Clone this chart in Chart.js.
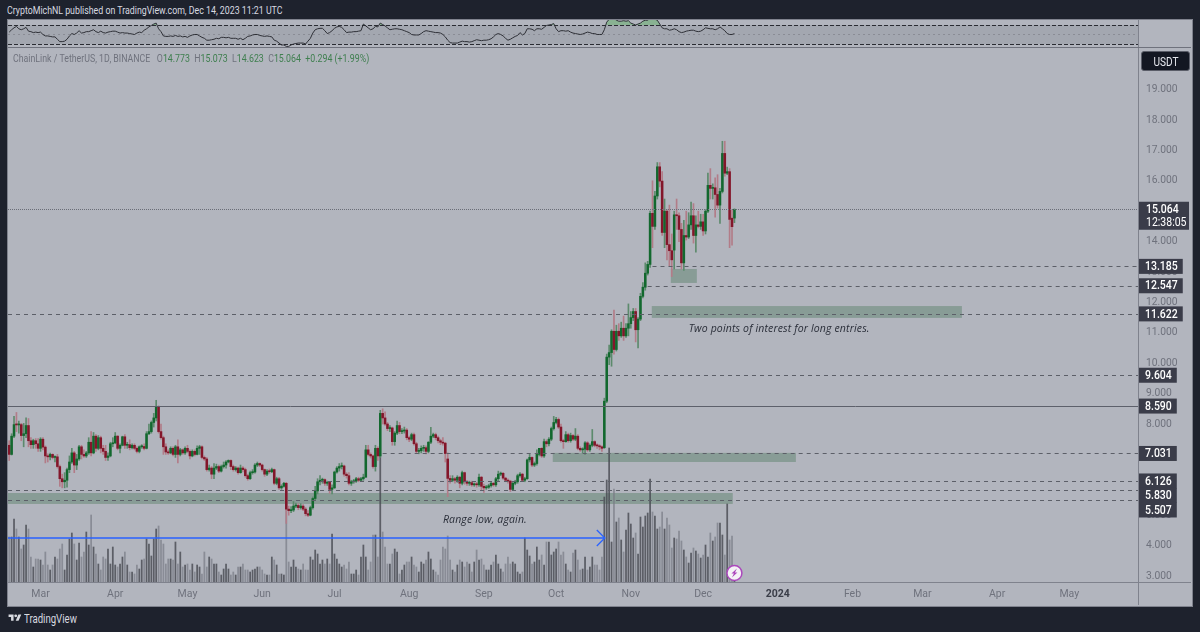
<!DOCTYPE html>
<html>
<head>
<meta charset="utf-8">
<title>ChainLink / TetherUS</title>
<script src="https://cdn.jsdelivr.net/npm/chart.js@4.4.6/dist/chart.umd.min.js"></script>
<style>
html,body{margin:0;padding:0;background:#1e222d;width:1200px;height:632px;overflow:hidden;font-family:Roboto,sans-serif}
canvas{position:absolute;display:block}
.box{position:absolute}
.narrow{transform:scaleX(.8);transform-origin:left center}
#frame{left:7px;top:19px;width:1184px;height:586px;background:#b2b5be;border:1px solid #7f828d}
#vsep{left:1138px;top:20px;width:1px;height:585px;background:#7f828d}
#hsep1{left:8px;top:47px;width:1183px;height:1px;background:#6f727d}
#hsep2{left:8px;top:582px;width:1183px;height:1px;background:#7f828d}
#published{left:7px;top:4px;font-size:11px;color:#d8dae0;white-space:nowrap}
#legend{left:13px;top:52px;font-size:11px;color:#6f727d;white-space:nowrap}
#legend b{font-weight:normal;color:#3f7f4f}
#unit{left:1141px;top:51px;width:47px;height:18px;line-height:18px;background:#131722;border:1px solid #5a5d68;border-radius:3px;color:#e6e8ee;text-align:center}
#unit span{display:inline-block;font-size:12px;transform:scaleX(.84)}
#brand{left:24px;top:612px;font-size:12px;color:#d8dae0;white-space:nowrap}
#logo{left:8px;top:613px}
</style>
</head>
<body>
<div class="box" id="frame"></div>
<div class="box narrow" id="published">CryptoMichNL published on TradingView.com, Dec 14, 2023 11:21 UTC</div>
<canvas id="rsi" width="1130" height="27" style="left:8px;top:20px"></canvas>
<canvas id="main" width="1184" height="557" style="left:8px;top:48px"></canvas>
<div class="box" id="vsep"></div>
<div class="box" id="hsep1"></div>
<div class="box" id="hsep2"></div>
<div class="box narrow" id="legend">ChainLink / TetherUS, 1D, BINANCE&nbsp;&nbsp; O<b>14.773</b>&nbsp;&nbsp;H<b>15.073</b>&nbsp;&nbsp;L<b>14.623</b>&nbsp;&nbsp;C<b>15.064</b>&nbsp;&nbsp;<b>+0.294 (+1.99%)</b></div>
<div class="box" id="unit"><span>USDT</span></div>
<svg class="box" id="logo" width="14" height="10" viewBox="0 0 36 28"><path fill="#d8dae0" d="M14 22H7V11H0V4h14v18zM28 22h-8l7.5-18h8L28 22z"/><circle fill="#d8dae0" cx="20" cy="8" r="4"/></svg>
<div class="box narrow" id="brand">TradingView</div>
<script>
// daily candles, LINK/USDT. first one is Feb 16 2023
const opens = [
7.30,7.00,7.60,7.98,7.97,7.98,7.62,7.68,7.95,7.45,
7.32,7.45,7.35,7.20,7.50,7.24,6.95,6.92,7.00,6.90,
6.92,6.60,6.20,6.10,6.15,6.50,6.75,7.05,6.65,6.85,
7.25,7.00,6.95,7.05,7.40,7.05,7.60,7.20,7.55,7.20,
7.10,6.90,6.95,7.35,7.38,7.60,7.20,7.30,7.58,7.30,
7.32,7.22,7.30,7.20,7.10,7.25,7.26,7.20,7.68,7.75,
8.05,8.20,8.57,7.75,7.55,7.25,7.08,7.05,7.20,7.00,
7.25,7.00,7.15,7.05,7.20,7.10,6.95,7.10,7.00,7.20,
7.25,6.90,6.85,6.50,6.55,6.35,6.55,6.60,6.45,6.60,
6.65,6.75,6.80,6.60,6.50,6.55,6.40,6.55,6.50,6.30,
6.20,6.40,6.42,6.65,6.70,6.65,6.50,6.35,6.45,6.43,
6.50,6.05,6.20,5.90,5.95,6.05,5.20,5.15,5.17,5.30,
5.32,5.25,5.30,5.20,5.05,5.00,5.25,5.55,5.80,6.10,
6.15,6.17,6.05,6.08,5.85,5.90,6.42,6.55,6.60,6.62,
6.35,6.30,6.05,6.10,6.12,6.20,6.15,6.20,6.25,7.15,
7.00,6.95,6.60,7.20,6.95,8.35,8.20,8.00,7.85,7.87,
7.42,7.70,7.95,7.75,7.77,7.80,7.55,7.50,7.65,7.35,
7.10,7.12,7.20,7.22,7.10,7.40,7.60,7.65,7.55,7.45,
7.40,7.37,6.85,6.21,6.15,6.20,6.15,6.25,6.05,6.40,
6.10,6.05,6.07,6.00,6.02,6.00,6.25,5.95,5.90,5.92,
5.97,6.05,6.00,6.20,6.35,6.38,6.22,6.15,6.12,5.85,
6.05,6.10,6.30,6.35,6.15,6.20,6.82,6.90,6.65,6.70,
7.00,7.20,6.95,7.42,7.35,7.50,7.85,8.05,8.15,7.90,
7.45,7.42,7.65,7.45,7.62,7.50,7.60,7.20,7.15,7.17,
7.38,7.15,7.30,7.42,7.30,7.28,7.25,7.22,8.75,10.20,
10.35,11.05,10.45,11.05,10.90,11.15,10.90,11.15,11.30,11.50,
11.70,11.10,11.45,12.20,12.50,12.96,13.25,14.93,14.50,15.50,
16.46,15.99,14.30,15.00,13.90,13.70,13.72,14.88,14.85,14.40,
13.30,14.20,14.15,14.55,14.85,14.20,14.55,14.50,14.65,14.35,
15.00,15.85,15.75,15.77,15.55,15.20,15.65,16.90,16.25,16.30,
14.77,14.773];
const highs = [
7.45,7.68,8.25,8.38,8.10,8.02,8.02,8.20,8.18,7.55,
7.50,7.52,7.52,7.55,7.55,7.28,7.02,7.04,7.02,6.95,
7.00,6.65,6.35,6.40,6.55,6.95,7.20,7.10,7.00,7.30,
7.30,7.15,7.10,7.55,7.75,7.72,7.65,7.62,7.60,7.30,
7.30,7.05,7.40,7.55,7.72,7.62,7.35,7.60,7.65,7.40,
7.48,7.35,7.35,7.25,7.28,7.32,7.35,7.75,8.00,8.10,
8.35,8.78,8.60,8.00,7.60,7.35,7.15,7.25,7.25,7.30,
7.48,7.20,7.18,7.25,7.30,7.15,7.15,7.15,7.28,7.30,
7.28,6.95,6.90,6.65,6.60,6.70,6.68,6.65,6.65,6.75,
6.80,6.82,6.82,6.65,6.60,6.58,6.65,6.60,6.55,6.35,
6.45,6.50,6.70,6.75,6.72,6.68,6.52,6.50,6.52,6.55,
6.52,6.25,6.25,6.00,6.08,6.08,5.30,5.28,5.45,5.40,
5.38,5.38,5.35,5.25,5.15,5.30,5.60,5.95,6.20,6.30,
6.22,6.20,6.12,6.10,6.00,6.45,6.60,6.70,6.72,6.65,
6.40,6.40,6.15,6.18,6.25,6.25,6.25,6.35,7.30,7.30,
7.05,6.98,7.30,7.25,8.45,8.50,8.40,8.05,7.95,7.90,
7.75,8.10,8.05,7.85,7.90,7.85,7.60,7.70,7.70,7.40,
7.20,7.28,7.30,7.28,7.42,7.89,7.70,7.70,7.60,7.50,
7.55,7.40,7.05,6.30,6.30,6.25,6.30,6.28,6.45,6.42,
6.15,6.12,6.12,6.06,6.08,6.35,6.28,6.02,5.98,6.02,
6.10,6.08,6.25,6.45,6.42,6.40,6.25,6.20,6.15,6.08,
6.15,6.35,6.40,6.38,6.25,6.85,7.00,6.92,6.75,7.15,
7.20,7.22,7.50,7.48,7.55,7.90,8.25,8.22,8.20,8.00,
7.50,7.75,7.70,7.70,7.65,7.85,7.65,7.25,7.22,7.42,
7.42,7.35,7.82,7.45,7.35,7.32,7.28,8.85,10.30,10.60,
11.10,11.75,11.25,11.30,11.35,11.55,11.30,11.95,11.70,11.80,
11.80,11.50,12.30,12.65,13.30,13.35,15.00,16.00,15.65,16.60,
16.60,16.30,15.40,15.05,15.20,14.25,15.00,15.40,14.95,14.60,
14.70,15.00,14.95,15.30,15.25,14.85,15.00,14.90,14.90,15.05,
16.25,16.40,15.90,16.10,16.20,15.75,17.30,17.30,16.45,16.40,
15.05,15.073];
const lows = [
6.80,6.98,7.55,7.75,7.70,7.45,7.25,7.55,7.25,7.20,
7.20,7.20,7.10,7.10,7.15,6.72,6.75,6.82,6.85,6.75,
6.55,5.95,5.90,5.90,5.92,6.40,6.70,6.40,6.50,6.80,
6.85,6.90,6.90,7.00,6.95,7.02,7.10,7.15,7.05,7.00,
6.80,6.80,6.92,7.25,7.35,7.15,7.05,7.28,7.20,7.20,
7.15,7.18,7.15,7.05,7.05,7.20,7.15,7.18,7.65,7.70,
7.90,8.10,7.70,7.50,7.00,7.00,7.00,7.02,6.95,6.90,
6.72,6.95,7.00,7.00,7.05,6.85,6.92,6.95,6.98,7.00,
6.85,6.80,6.45,6.45,6.20,6.20,6.50,6.40,6.42,6.55,
6.55,6.72,6.50,6.45,6.45,6.35,6.38,6.42,6.25,6.15,
6.18,6.35,6.38,6.60,6.60,6.45,6.28,6.30,6.38,6.40,
6.00,6.00,5.85,5.85,5.92,4.73,5.00,5.08,5.12,5.25,
5.18,5.20,5.15,4.98,4.95,4.98,5.20,5.50,5.70,6.00,
6.05,5.98,5.98,5.72,5.70,5.88,6.38,6.45,6.52,6.28,
6.22,6.00,5.98,6.05,6.08,6.10,6.10,6.15,6.25,6.95,
6.88,6.55,6.45,6.80,6.90,8.00,7.95,7.78,7.75,7.30,
7.30,7.65,7.68,7.68,7.70,7.48,7.42,7.45,7.30,7.05,
7.02,7.05,7.10,7.02,7.05,7.35,7.55,7.48,7.38,7.32,
7.30,6.75,5.61,6.05,6.10,6.05,6.08,5.90,6.00,6.02,
5.98,5.98,5.95,5.95,5.92,5.95,5.82,5.75,5.85,5.88,
5.92,5.95,5.95,6.12,6.30,6.18,6.10,6.05,5.78,5.82,
6.00,6.05,6.25,6.12,6.10,6.18,6.75,6.60,6.60,6.65,
6.95,6.90,6.90,7.25,7.28,7.45,7.80,8.00,7.85,7.40,
7.20,7.40,7.40,7.40,7.45,7.45,7.15,7.10,7.05,7.00,
7.10,7.10,7.25,7.25,7.20,7.15,7.10,7.20,8.70,9.95,
9.90,10.30,10.40,10.75,10.85,10.75,10.85,10.90,11.15,11.40,
10.70,10.50,11.40,12.15,12.40,12.90,13.15,13.80,14.40,15.40,
15.80,14.20,13.80,13.40,13.20,12.85,13.10,14.40,14.00,13.10,
13.05,14.05,14.10,14.40,13.95,13.65,14.45,14.40,14.20,14.25,
14.95,15.40,15.40,14.80,15.10,14.60,15.60,16.15,16.20,13.80,
13.88,14.623];
const closes = [
7.00,7.60,7.98,7.97,7.98,7.62,7.68,7.95,7.45,7.32,
7.45,7.35,7.20,7.50,7.24,6.95,6.92,7.00,6.90,6.92,
6.60,6.20,6.10,6.15,6.50,6.75,7.05,6.65,6.85,7.25,
7.00,6.95,7.05,7.40,7.05,7.60,7.20,7.55,7.20,7.10,
6.90,6.95,7.35,7.38,7.60,7.20,7.30,7.58,7.30,7.32,
7.22,7.30,7.20,7.10,7.25,7.26,7.20,7.68,7.75,8.05,
8.20,8.57,7.75,7.55,7.25,7.08,7.05,7.20,7.00,7.25,
7.00,7.15,7.05,7.20,7.10,6.95,7.10,7.00,7.20,7.25,
6.90,6.85,6.50,6.55,6.35,6.55,6.60,6.45,6.60,6.65,
6.75,6.80,6.60,6.50,6.55,6.40,6.55,6.50,6.30,6.20,
6.40,6.42,6.65,6.70,6.65,6.50,6.35,6.45,6.43,6.50,
6.05,6.20,5.90,5.95,6.05,5.20,5.15,5.17,5.30,5.32,
5.25,5.30,5.20,5.05,5.00,5.25,5.55,5.80,6.10,6.15,
6.17,6.05,6.08,5.85,5.90,6.42,6.55,6.60,6.62,6.35,
6.30,6.05,6.10,6.12,6.20,6.15,6.20,6.25,7.15,7.00,
6.95,6.60,7.20,6.95,8.35,8.20,8.00,7.85,7.87,7.42,
7.70,7.95,7.75,7.77,7.80,7.55,7.50,7.65,7.35,7.10,
7.12,7.20,7.22,7.10,7.40,7.60,7.65,7.55,7.45,7.40,
7.37,7.03,6.21,6.15,6.20,6.15,6.25,6.05,6.40,6.10,
6.05,6.07,6.00,6.02,6.00,6.25,5.95,5.90,5.92,5.97,
6.05,6.00,6.20,6.35,6.38,6.22,6.15,6.12,5.85,6.05,
6.10,6.30,6.35,6.15,6.20,6.82,6.90,6.65,6.70,7.00,
7.20,6.95,7.42,7.35,7.50,7.85,8.05,8.15,7.90,7.45,
7.42,7.65,7.45,7.62,7.50,7.60,7.20,7.15,7.17,7.38,
7.15,7.30,7.42,7.30,7.28,7.25,7.20,8.75,10.20,10.35,
11.05,10.45,11.05,10.90,11.15,10.90,11.15,11.30,11.50,11.70,
11.10,11.45,12.20,12.50,12.96,13.25,14.93,14.50,15.50,16.46,
15.99,14.30,15.00,13.90,13.70,13.40,14.88,14.85,14.40,13.30,
14.20,14.15,14.55,14.85,14.20,14.55,14.50,14.65,14.35,15.00,
15.85,15.75,15.77,15.55,15.20,15.65,16.90,16.25,16.30,14.73,
14.49,15.064];
// volume, millions (rough)
const volumes = [
45,45,63,53,45,33,37,57,53,25,
15,23,23,22,17,30,17,12,17,25,
23,33,38,12,27,43,49,38,22,39,
25,30,50,37,67,35,28,18,12,25,
23,33,18,35,17,15,18,25,30,17,
10,10,8,17,13,22,23,43,38,26,
43,53,56,42,38,18,23,23,22,40,
18,30,15,17,18,12,18,10,17,15,
8,30,15,25,23,18,18,10,7,13,
18,13,7,10,7,15,15,18,12,12,
10,12,13,15,15,12,8,7,7,25,
22,17,8,8,7,92,20,15,22,15,
13,12,18,12,12,25,22,32,28,18,
22,18,23,18,48,28,23,18,15,17,
13,20,8,8,12,7,25,37,25,12,
20,47,47,25,128,50,35,18,18,28,
33,30,8,12,17,20,20,25,17,15,
10,20,18,22,30,23,12,10,7,22,
35,33,46,22,12,10,17,22,20,15,
20,18,10,20,32,22,23,17,12,12,
17,20,27,18,13,10,18,25,18,20,
18,10,8,10,44,32,26,18,20,35,
22,27,17,40,40,27,30,33,40,27,
30,18,12,10,29,32,22,12,13,25,
12,15,25,17,17,12,25,85,102,134,
40,93,60,64,42,30,52,69,58,44,
49,28,65,55,66,69,103,70,66,53,
55,70,53,64,57,34,44,43,51,41,
32,25,19,29,34,31,28,24,27,37,
25,49,41,45,59,59,47,27,78,42,
46,8];
const rsiValues = [
55,60,64,67,62,60,62,65,57,56,
54,55,54,55,50,47,47,46,45,45,
40,35,35,36,40,47,52,50,53,58,
53,54,56,56,58,60,56,54,57,54,
53,55,56,57,57,55,53,54,53,53,
52,51,50,53,55,54,59,62,66,69,
72,74,62,56,47,46,46,47,46,48,
46,47,45,46,44,47,49,50,50,47,
44,42,38,38,39,40,42,41,44,44,
43,44,42,42,42,40,42,39,42,46,
47,49,50,50,48,47,46,47,46,45,
38,36,32,28,28,25,25,28,30,31,
32,32,32,30,36,42,53,60,62,63,
63,58,52,54,58,63,66,67,65,60,
54,55,55,56,56,57,58,72,68,64,
60,62,67,66,74,71,68,64,60,61,
62,62,61,60,58,56,54,50,49,49,
49,52,56,58,57,56,55,54,54,53,
50,45,38,33,32,32,32,34,36,35,
35,34,35,37,39,38,37,38,38,39,
41,45,50,52,50,47,42,38,40,43,
46,48,54,49,52,62,62,61,58,62,
62,61,65,69,70,71,73,62,56,58,
58,57,58,55,53,52,51,50,51,53,
55,54,52,52,50,50,50,60,76,82,
82,84,80,78,78,79,78,79,74,72,
70,72,74,78,80,80,84,84,82,80,
72,64,62,62,59,60,62,60,56,54,
55,57,58,59,59,57,56,57,60,64,
63,62,62,60,62,66,62,58,52,50,
50,52];

const priceTicks = [3,4,5,6,7,8,9,10,11,12,13,14,15,16,17,18,19];
const monthNames = ['2024','Feb','Mar','Apr','May','Jun','Jul','Aug','Sep','Oct','Nov','Dec'];
const rsiLevels = [70,50,30];

// horizontal levels drawn on the chart, [price, first day index]
const levelPrices = [13.185,12.547,11.622,9.604,8.590,7.031,6.126,5.830,5.507];
const levelStarts = [267,265,-0.5,-0.5,-0.5,155,129,-0.5,-0.5];
const lastPrice = 15.064;
const countdown = '12:38:05';
// green zones
const zoneFrom = [274.6,266.7,225.6,-0.5];
const zoneTo = [285.4,395.4,326.5,300.3];
const zoneHigh = [13.10,11.88,7.05,5.73];
const zoneLow = [12.64,11.49,6.75,5.37];
const noteTexts = ['Range low, again.','Two points of interest for long entries.'];
const noteDays = [180,282];
const notePrices = [4.85,11.14];
const arrowPrice = 4.25;
const arrowEnd = 247.2;

const FONT = 'Roboto, sans-serif';
const NOTE_FONT = '"Open Sans", sans-serif';
const SQUEEZE = 0.84; // the original's labels are narrower than any font we have

// one label per calendar day, also for the empty part on the right
const days = [];
for(let i=0;i<469;i++) days.push(new Date(Date.UTC(2023,1,16+i)));
const dayLabels = days.map(d=>d.toISOString().slice(0,10));

const upBody='#12682e', downBody='#83162a', upWick='#5c8a6c', downWick='#b27c88';
const isUp = opens.map((o,i)=>closes[i]>=o);

function monthTick(value){
  const d = days[value];
  return d.getUTCDate()===1 ? monthNames[d.getUTCMonth()] : '';
}

function narrowText(ctx,txt,x,y){
  ctx.save();
  ctx.translate(x,y);
  ctx.scale(SQUEEZE,1);
  ctx.fillText(txt,0,0);
  ctx.restore();
}

// bands and zones go under the candles, levels and tags above
const overlays = {
  id:'overlays',
  beforeDatasetsDraw(chart){
    const {ctx,scales:{x,y}} = chart;
    ctx.save();
    ctx.fillStyle='rgba(68,116,84,0.38)';
    zoneFrom.forEach((f,i)=>{
      const l=x.getPixelForValue(f), r=x.getPixelForValue(zoneTo[i]);
      const t=y.getPixelForValue(zoneHigh[i]), b=y.getPixelForValue(zoneLow[i]);
      ctx.fillRect(l,t,r-l,b-t);
    });
    ctx.restore();
  },
  afterDatasetsDraw(chart){
    const {ctx,chartArea,scales:{x,y}} = chart;
    ctx.save();
    ctx.lineWidth=1;
    levelPrices.forEach((p,i)=>{
      const py=Math.round(y.getPixelForValue(p))+.5;
      ctx.strokeStyle = p===8.590 ? '#5d606b' : '#5c5f68';
      ctx.setLineDash(p===8.590 ? [] : [4,4]);
      ctx.beginPath();
      ctx.moveTo(x.getPixelForValue(levelStarts[i]),py);
      ctx.lineTo(chartArea.right,py);
      ctx.stroke();
    });
    // last price, dotted
    const ly=Math.round(y.getPixelForValue(lastPrice))+.5;
    ctx.strokeStyle='#6a6d77';
    ctx.setLineDash([1,1]);
    ctx.beginPath();ctx.moveTo(chartArea.left,ly);ctx.lineTo(chartArea.right,ly);ctx.stroke();
    ctx.setLineDash([]);
    // arrow
    const ay=y.getPixelForValue(arrowPrice), ax=x.getPixelForValue(arrowEnd);
    ctx.strokeStyle='#2962ff';
    ctx.lineWidth=1.3;
    ctx.beginPath();ctx.moveTo(chartArea.left,ay);ctx.lineTo(ax,ay);ctx.stroke();
    ctx.beginPath();ctx.moveTo(ax-8,ay-8);ctx.lineTo(ax,ay);ctx.lineTo(ax-8,ay+8);ctx.stroke();
    // notes
    ctx.fillStyle='#2a2e39';
    ctx.font='italic 10.5px '+NOTE_FONT;
    ctx.textBaseline='middle';
    ctx.letterSpacing='0.15px';
    noteTexts.forEach((t,i)=>ctx.fillText(t,x.getPixelForValue(noteDays[i]),y.getPixelForValue(notePrices[i])));
    ctx.letterSpacing='0px';
    // lightning badge on the last bar
    const bx=x.getPixelForValue(301), by=y.getPixelForValue(3.1);
    ctx.beginPath();ctx.arc(bx,by,7.5,0,Math.PI*2);
    ctx.fillStyle='#f4f1f6';ctx.fill();
    ctx.strokeStyle='#ab47bc';ctx.lineWidth=1.5;ctx.stroke();
    ctx.fillStyle='#ab47bc';
    ctx.beginPath();
    ctx.moveTo(bx+2.5,by-4.5);ctx.lineTo(bx-3,by+.5);ctx.lineTo(bx-.5,by+.5);
    ctx.lineTo(bx-2.5,by+4.5);ctx.lineTo(bx+3,by-.5);ctx.lineTo(bx+.5,by-.5);
    ctx.closePath();ctx.fill();
    ctx.restore();
  },
  afterDraw(chart){
    const {ctx,chartArea,scales:{y}} = chart;
    const left=chartArea.right+1;
    ctx.save();
    ctx.textBaseline='middle';
    ctx.font='500 12.5px '+FONT;
    // tags push each other down when they would overlap, like on the original
    let prev=-100;
    levelPrices.forEach(p=>{
      const cy=Math.max(y.getPixelForValue(p),prev+14.5);
      const txt=p.toFixed(3);
      const w=ctx.measureText(txt).width*SQUEEZE+11;
      ctx.fillStyle='#3a3c49';
      ctx.fillRect(left,cy-7.5,w,15);
      ctx.fillStyle='#ffffff';
      narrowText(ctx,txt,left+6,cy+.5);
      prev=cy;
    });
    const ly=y.getPixelForValue(lastPrice);
    ctx.fillStyle='#3a3c49';
    ctx.fillRect(left,ly-7.5,50,28);
    ctx.fillStyle='#ffffff';
    narrowText(ctx,lastPrice.toFixed(3),left+7,ly+.5);
    ctx.font='12.5px '+FONT;
    narrowText(ctx,countdown,left+7,ly+13.5);
    ctx.restore();
  }
};

new Chart(document.getElementById('main'),{
  type:'bar',
  data:{
    labels:dayLabels,
    datasets:[
      {label:'Volume',yAxisID:'vol',order:3,grouped:false,barThickness:1.1,
       data:volumes,backgroundColor:isUp.map(u=>u?'rgba(70,72,80,0.8)':'rgba(120,122,132,0.7)')},
      {label:'Wick',yAxisID:'y',order:2,grouped:false,barThickness:1,
       data:highs.map((h,i)=>[lows[i],h]),backgroundColor:isUp.map(u=>u?upWick:downWick)},
      {label:'Body',yAxisID:'y',order:1,grouped:false,barThickness:1.9,minBarLength:1,
       data:opens.map((o,i)=>[o,closes[i]]),backgroundColor:isUp.map(u=>u?upBody:downBody)}
    ]
  },
  options:{
    responsive:false,
    animation:false,
    layout:{padding:0},
    plugins:{legend:{display:false},tooltip:{enabled:false}},
    scales:{
      x:{
        grid:{display:false,drawTicks:false},
        border:{display:false},
        afterFit(s){s.height=23;s.paddingLeft=0;s.paddingRight=0},
        ticks:{
          autoSkip:false,maxRotation:0,padding:6,
          callback:monthTick,
          color:c=>c.tick&&c.tick.label==='2024'?'#3a3d48':'#6f727d',
          font:c=>({family:FONT,size:10.5,weight:c.tick&&c.tick.label==='2024'?'bold':'normal'})
        }
      },
      y:{
        position:'right',
        min:2.803,max:20.368,
        grid:{display:false,drawTicks:false},
        border:{display:false},
        afterBuildTicks(s){s.ticks=priceTicks.map(v=>({value:v}))},
        afterFit(s){s.width=54;s.paddingTop=0;s.paddingBottom=0},
        ticks:{
          padding:8,color:'#6f727d',font:{family:FONT,size:10.3},
          callback:v=>v.toFixed(3)
        }
      },
      vol:{display:false,min:0,max:534}
    }
  },
  plugins:[overlays]
});

const rsiBand = {
  id:'rsiBand',
  beforeDatasetsDraw(chart){
    const {ctx,chartArea,scales:{y}} = chart;
    const top=y.getPixelForValue(rsiLevels[0]), bottom=y.getPixelForValue(rsiLevels[2]);
    ctx.save();
    ctx.fillStyle='rgba(80,82,95,0.14)';
    ctx.fillRect(chartArea.left,top,chartArea.width,bottom-top);
    ctx.lineWidth=1;
    rsiLevels.forEach(v=>{
      const py=Math.round(y.getPixelForValue(v))+.5;
      ctx.strokeStyle= v===50 ? 'rgba(90,92,100,0.35)' : '#2a2c33';
      ctx.setLineDash(v===50 ? [2,3] : [4,2]);
      ctx.beginPath();ctx.moveTo(chartArea.left,py);ctx.lineTo(chartArea.right,py);ctx.stroke();
    });
    ctx.restore();
  }
};

new Chart(document.getElementById('rsi'),{
  type:'line',
  data:{
    labels:dayLabels,
    datasets:[{
      data:rsiValues,borderColor:'#2d2f36',borderWidth:1,pointRadius:0,tension:0,
      fill:{target:{value:70},above:'rgba(76,175,80,0.4)',below:'rgba(0,0,0,0)'}
    }]
  },
  options:{
    responsive:false,
    animation:false,
    layout:{padding:0},
    plugins:{legend:{display:false},tooltip:{enabled:false}},
    scales:{
      x:{display:false,offset:true},
      y:{display:false,min:23.7,max:80.5}
    }
  },
  plugins:[rsiBand]
});
</script>
</body>
</html>
